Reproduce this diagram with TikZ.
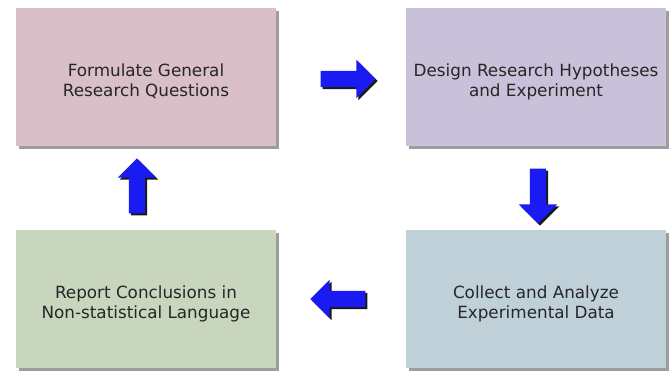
\documentclass[tikz,border=0pt]{standalone}
\usepackage{fontspec}
\setmainfont{DejaVu Sans}
\usepackage{tikz}
\usetikzlibrary{positioning, shapes.arrows, shadows}

\definecolor{boxpink}{HTML}{D8BFC8}
\definecolor{boxlilac}{HTML}{C9C1DA}
\definecolor{boxblue}{HTML}{BFD0D8}
\definecolor{boxgreen}{HTML}{C9D6BE}
\definecolor{arrowblue}{HTML}{1A1AF2}

\begin{document}
\begin{tikzpicture}[x=1pt, y=1pt, node distance=222pt and 390pt, on grid,
        stage/.style={rectangle, minimum width=260pt, minimum height=138pt, align=center,
            text=black!85, font=\fontsize{16.8}{20}\selectfont, text height=42pt,
            drop shadow={shadow xshift=3pt, shadow yshift=-3pt, fill=black!55, opacity=0.7}},
        bigarrow/.style={single arrow, fill=arrowblue, inner sep=0pt,
            minimum height=55pt, single arrow head extend=11pt,
            drop shadow={shadow xshift=2pt, shadow yshift=-2pt, fill=black, opacity=0.9}}]
        \useasboundingbox (0,0) rectangle (671,-373);

        \node[stage, fill=boxpink]  (form) at (146,-77)   {Formulate General\\Research Questions};
        \node[stage, fill=boxlilac] (design) [right=of form]   {Design Research Hypotheses\\and Experiment};
        \node[stage, fill=boxblue]  (collect) [below=of design] {Collect and Analyze\\Experimental Data};
        \node[stage, fill=boxgreen] (report) [below=of form]   {Report Conclusions in\\Non-statistical Language};

        \node[bigarrow] (a1) at (344,-79) {\rule{0pt}{16pt}};
        \node[bigarrow, rotate=270] (a2) at (538,-192) {\rule{0pt}{16pt}};
        \node[bigarrow, rotate=180] (a3) at (342,-299) {\rule{0pt}{16pt}};
        \node[bigarrow, rotate=90]  (a4) at (137,-190) {\rule{0pt}{16pt}};
     \end{tikzpicture}
\end{document}
